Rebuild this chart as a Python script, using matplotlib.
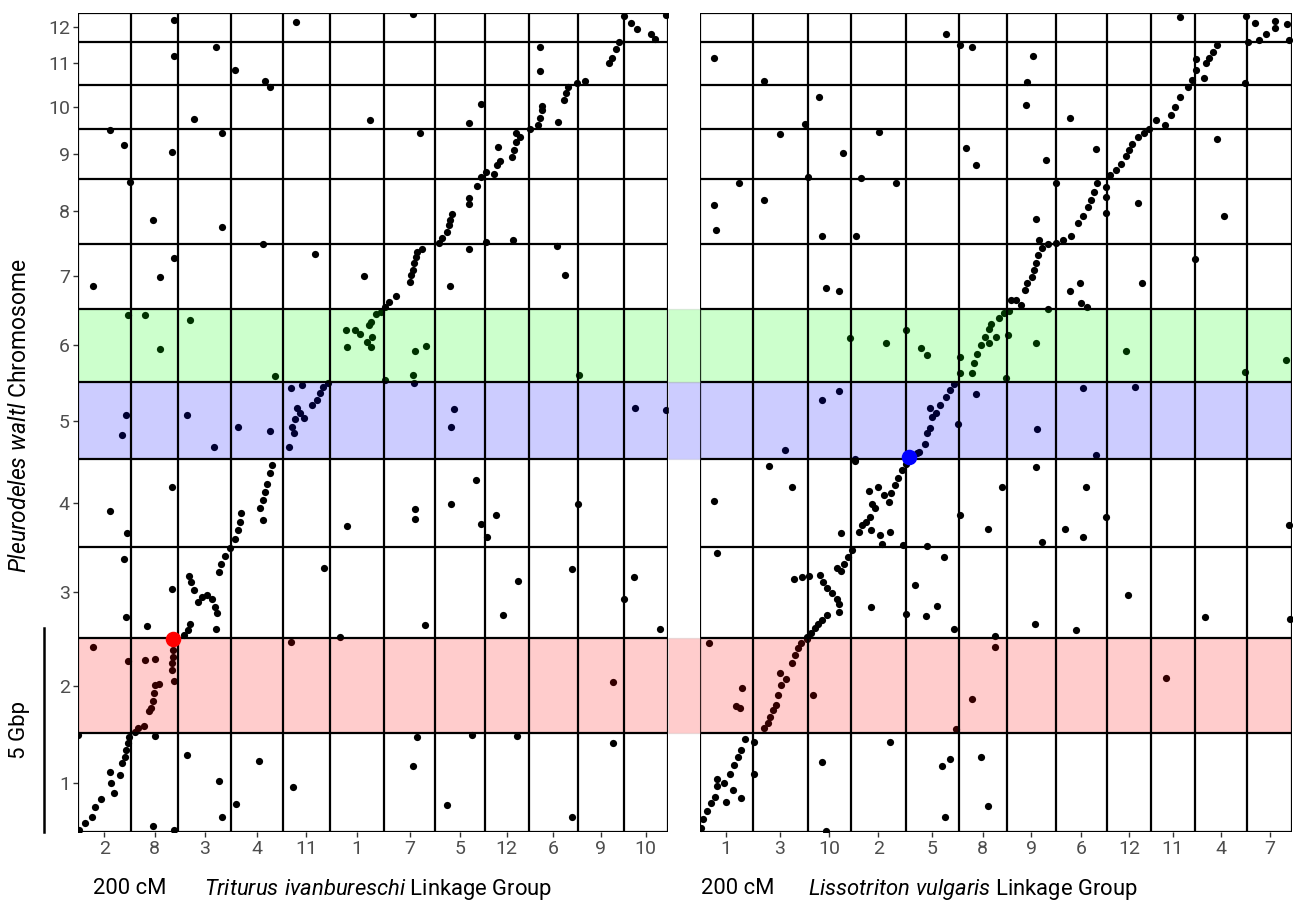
#!/usr/bin/env python3

import matplotlib
matplotlib.use("Agg")
import matplotlib.pyplot as plt
import matplotlib.transforms as mtransforms
from matplotlib.patches import Rectangle
from matplotlib.lines import Line2D
from matplotlib import font_manager
import numpy as np

installed = {f.name for f in font_manager.fontManager.ttflist}
font = "Liberation Sans Narrow" if "Liberation Sans Narrow" in installed else "Roboto"
plt.rcParams["font.family"] = [font, "DejaVu Sans"]
plt.rcParams["mathtext.fontset"] = "custom"
plt.rcParams["mathtext.rm"] = font
plt.rcParams["mathtext.it"] = font + ":italic"

# Pleurodeles waltl chromosomes (Gbp)
chrom_names = ["1", "2", "3", "4", "5", "6", "7", "8", "9", "10", "11", "12"]
chrom_gbp = [2.42, 2.33, 2.24, 2.14, 1.91, 1.77, 1.61, 1.58, 1.22, 1.09, 1.05, 0.72]

# linkage groups (cM), in plotted order
triturus_lg = ["2", "8", "3", "4", "11", "1", "7", "5", "12", "6", "9", "10"]
triturus_len = [107, 94, 106, 104, 93, 109, 102, 100, 87, 99, 91, 88]
lissotriton_lg = ["1", "3", "10", "2", "5", "8", "9", "6", "12", "11", "4", "7"]
lissotriton_len = [105, 110, 86, 111, 105, 97, 97, 103, 88, 87, 105, 90]

# highlighted chromosomes: (chromosome, colour)
bands = [("6", "#00ff00"), ("5", "#0000ff"), ("2", "#ff0000")]

# marker positions, cumulative cM / cumulative Gbp
triturus_pts = [
    (30, 13.39), (64, 17.2), (93, 16.83), (104, 15.94), (150, 15.01), (164, 13.6), (192, 19.9), (192, 19.02),
    (189, 16.66), (192, 14.06), (232, 17.47), (277, 19.24), (288, 17.14), (288, 14.82), (315, 18.67), (374, 18.4),
    (385, 18.26), (370, 14.4), (437, 19.84), (474, 14.17), (573, 13.62), (585, 17.45), (671, 20.04), (684, 17.14),
    (744, 13.39), (782, 17.37), (806, 17.84), (782, 15.53), (782, 15.39), (782, 14.3), (816, 14.47), (870, 14.5),
    (925, 19.25), (925, 18.64), (960, 17.4), (958, 14.36), (974, 13.65), (1115, 10.39), (1176, 10.34), (1002, 11.19),
    (752, 10.37), (746, 9.93),
    (101, 12.66), (134, 12.66), (164, 11.83), (224, 12.55), (395, 11.17), (539, 11.88), (537, 12.3), (554, 12.3),
    (565, 12.2), (578, 12.02), (586, 11.89), (588, 12.14), (582, 12.42), (586, 12.5), (596, 12.69), (606, 12.75),
    (614, 11.09), (675, 11.8), (697, 11.92), (670, 11.19), (673, 11.01),
    (614, 12.87), (623, 12.99), (636, 13.14), (664, 13.49), (667, 13.65), (670, 13.77), (673, 13.94), (676, 14.1),
    (679, 14.22), (688, 14.3), (722, 14.44), (729, 14.57), (738, 14.71), (742, 14.88), (744, 15.0), (749, 15.14),
    (799, 15.84), (807, 16.06), (816, 16.18), (833, 16.12), (838, 16.35), (844, 16.45), (840, 16.8), (868, 16.55),
    (873, 16.71), (877, 16.92), (877, 17.12), (885, 17.04), (904, 17.24), (920, 17.33), (924, 17.49), (929, 17.7),
    (929, 17.79), (972, 17.94), (976, 18.1), (981, 18.25), (998, 18.35), (1015, 18.41), (1063, 18.84), (1069, 18.98),
    (1076, 19.2), (1083, 19.37), (1093, 20.0), (1106, 19.83), (1118, 19.67), (1146, 19.57), (1154, 19.43), (1176, 20.02),
    (422, 9.44), (428, 9.93), (435, 10.11), (439, 10.38), (445, 10.26), (452, 10.14), (468, 10.46), (478, 10.59),
    (484, 10.75), (491, 10.9), (500, 11.01), (426, 10.87), (448, 10.95), (97, 10.23), (88, 9.73), (218, 10.21),
    (272, 9.44), (320, 9.92), (385, 9.82), (432, 9.77),
    (389, 8.99), (384, 8.79), (379, 8.54), (374, 8.34), (370, 8.13), (365, 7.95), (370, 7.64), (326, 7.81),
    (324, 7.6), (320, 7.4), (315, 7.17), (305, 6.95), (294, 6.76), (287, 6.58), (283, 6.38),
    (279, 5.36), (274, 5.52), (268, 5.72), (259, 5.8), (249, 5.75), (240, 5.64), (233, 5.93), (226, 6.13),
    (223, 6.27), (224, 5.11), (220, 4.95), (213, 4.83), (277, 4.97),
    (190, 4.46), (190, 4.29), (189, 4.13), (188, 3.97), (192, 3.7), (163, 3.62), (155, 3.6), (153, 3.4),
    (150, 3.22), (147, 3.03), (143, 2.97), (133, 2.6), (121, 2.54), (114, 2.46),
    (103, 2.33), (101, 2.17), (96, 2.01), (94, 1.84), (88, 1.68), (84, 1.39), (72, 0.95), (66, 1.19),
    (64, 1.48), (46, 0.82), (34, 0.62), (29, 0.37), (15, 0.21), (3, 0.05),
    (189, 8.46), (65, 7.86), (99, 7.34), (93, 6.7), (189, 5.95), (96, 5.26), (139, 5.05), (31, 4.54),
    (100, 4.2), (135, 4.21), (155, 4.24), (0, 2.37), (155, 2.36), (218, 1.88), (363, 1.74), (283, 1.25),
    (317, 0.68), (289, 0.36), (431, 1.11), (151, 0.15), (192, 0.05), (426, 4.66), (492, 6.47), (539, 7.51),
    (524, 4.78), (675, 7.91), (675, 7.66), (695, 5.07), (746, 8.04), (738, 0.67), (670, 1.61), (679, 2.32),
    (796, 8.62), (807, 7.55), (819, 7.24), (836, 7.78), (851, 5.32), (880, 6.14), (788, 2.37), (878, 2.35),
    (988, 6.45), (988, 0.36), (1001, 8.05), (1071, 3.67), (1070, 2.17), (1092, 5.72), (1113, 6.26), (1164, 4.97),
]
triturus_focus = (191, 4.72)

lissotriton_pts = [
    (27, 18.96), (128, 18.4), (238, 18.01), (209, 17.35), (159, 17.11), (357, 17.15), (285, 16.65), (77, 15.91),
    (216, 16.06), (321, 16.04), (392, 15.9), (28, 15.37), (32, 14.75), (128, 15.5), (243, 14.61), (311, 14.6),
    (252, 13.34), (277, 13.27), (491, 19.56), (520, 19.3), (543, 19.24), (532, 16.76), (551, 16.34), (666, 19.02),
    (654, 18.37), (651, 17.82), (739, 17.51), (691, 16.48), (711, 15.91), (672, 15.02), (677, 14.52), (740, 13.26),
    (760, 13.46), (762, 12.96), (773, 12.87), (791, 16.74), (875, 15.42), (884, 13.46), (960, 19.97), (990, 14.05),
    (1033, 16.98), (1047, 15.1), (1090, 18.36), (1092, 20.0), (1110, 19.83), (1131, 19.55), (1150, 19.88), (1174, 19.8),
    (1150, 19.7), (1095, 19.37), (1117, 19.41), (1178, 19.41),
    (621, 13.04), (631, 13.04), (642, 12.91), (650, 13.28), (654, 13.45), (664, 13.61), (668, 13.77), (672, 13.94),
    (676, 14.14), (683, 14.32), (695, 14.41), (712, 14.44), (725, 14.52), (742, 14.61), (756, 14.92), (765, 15.1),
    (775, 15.31), (781, 15.5), (787, 15.69), (793, 15.9), (811, 15.57), (811, 15.16), (811, 15.82), (820, 16.1),
    (832, 16.22), (842, 16.37), (851, 16.57), (858, 16.71), (863, 16.86), (875, 17.04), (887, 17.14), (898, 17.24),
    (912, 17.45), (930, 17.33), (941, 17.57), (949, 17.78), (959, 18.02), (975, 18.25), (984, 18.43), (991, 18.67),
    (1008, 18.47), (991, 18.94), (1012, 18.84), (1017, 18.98), (1025, 19.12), (1033, 19.3),
    (519, 11.26), (543, 11.26), (548, 11.49), (554, 11.71), (561, 11.93), (570, 12.14), (578, 12.34), (582, 12.46),
    (592, 12.14), (597, 12.59), (607, 12.71), (617, 12.78), (578, 11.98), (300, 12.1), (372, 11.99), (412, 12.3),
    (441, 11.85), (453, 11.69), (519, 11.63), (615, 12.18), (611, 11.12), (672, 11.99), (695, 12.81), (851, 11.79),
    (1090, 11.28), (1171, 11.57),
    (243, 10.59), (277, 10.81), (170, 9.36), (552, 10.73), (515, 10.0), (674, 9.88), (765, 10.87), (869, 10.9),
    (791, 9.24), (310, 9.13), (437, 9.32), (449, 9.52), (454, 9.77), (460, 9.89), (464, 10.18), (460, 10.38),
    (472, 10.26), (480, 10.46), (492, 10.67), (500, 10.83), (507, 10.99),
    (433, 9.29), (412, 9.03), (404, 8.87), (396, 8.67), (389, 8.5), (381, 8.3), (378, 8.09), (368, 8.26),
    (356, 8.46), (338, 8.36), (343, 8.05), (349, 7.93), (339, 7.73), (331, 7.6), (324, 7.52), (318, 7.36),
    (342, 7.4), (360, 7.28), (363, 7.07), (380, 7.36), (406, 7.03), (282, 7.33),
    (303, 6.91), (295, 6.75), (287, 6.58), (281, 6.4), (273, 6.46), (240, 6.3), (245, 6.13), (253, 5.97),
    (263, 5.85), (273, 5.72), (277, 5.6), (277, 5.4), (253, 5.32), (244, 5.19), (235, 5.11), (230, 4.99),
    (222, 4.88), (214, 4.78),
    (188, 6.19), (204, 6.24), (217, 6.27), (430, 6.06), (488, 6.75), (342, 5.52), (411, 5.34), (452, 5.3),
    (473, 5.54), (453, 7.01), (507, 4.97), (590, 4.8), (670, 5.1), (752, 4.94), (855, 5.81), (1009, 5.28),
    (1180, 5.23), (1178, 7.52), (34, 6.83),
    (28, 8.12), (138, 8.97), (184, 8.46), (519, 7.77), (576, 7.42), (603, 8.46), (672, 8.95), (683, 7.11),
    (730, 7.42), (772, 8.46), (766, 7.23), (812, 7.73), (310, 9.1),
    (214, 4.73), (202, 4.64), (195, 4.5), (189, 4.34), (183, 4.13), (171, 3.76), (159, 3.9), (162, 3.6),
    (156, 3.36), (152, 3.11), (146, 2.99), (140, 2.82), (136, 2.68), (128, 2.54),
    (17, 4.62), (83, 3.53), (71, 3.09), (80, 3.05), (226, 3.36), (511, 2.52), (543, 3.25), (590, 4.54), (932, 3.77),
    (107, 2.2), (89, 2.27), (81, 2.02), (76, 1.84), (68, 1.64), (60, 1.43), (34, 1.29), (34, 1.12),
    (29, 0.86), (21, 0.7), (13, 0.52), (5, 0.33), (1, 0.09),
    (48, 1.19), (65, 1.03), (51, 0.74), (81, 0.84), (107, 1.42), (244, 1.71), (251, 0.02), (379, 2.21),
    (483, 1.61), (500, 1.78), (561, 1.83), (576, 0.64), (489, 0.36),
]
lissotriton_focus = (417, 9.2)

chrom_edges = np.concatenate([[0], np.cumsum(chrom_gbp)])
chrom_mids = (chrom_edges[:-1] + chrom_edges[1:]) / 2

W, H = 1293, 911
fig = plt.figure(figsize=(W / 100, H / 100), dpi=100)
ax1 = fig.add_axes([77.5 / W, (H - 832) / H, 590 / W, 819.3 / H])
ax2 = fig.add_axes([700 / W, (H - 832) / H, 592 / W, 819.3 / H])

panels = [
    (ax1, triturus_lg, triturus_len, triturus_pts, triturus_focus, "red",
     r"$\mathit{Triturus\ ivanbureschi}$ Linkage Group", 204),
    (ax2, lissotriton_lg, lissotriton_len, lissotriton_pts, lissotriton_focus, "blue",
     r"$\mathit{Lissotriton\ vulgaris}$ Linkage Group", 808),
]

for ax, lg, lens, pts, focus, fcol, title, title_x in panels:
    edges = np.concatenate([[0], np.cumsum(lens)])
    mids = (edges[:-1] + edges[1:]) / 2
    xs = [p[0] for p in pts]
    ys = [p[1] for p in pts]
    ax.scatter(xs, ys, s=27, color="black", linewidths=0, zorder=2)

    for name, col in bands:
        i = chrom_names.index(name)
        ax.axhspan(chrom_edges[i], chrom_edges[i + 1], color=col, alpha=0.2, lw=0, zorder=3)

    for e in edges:
        ax.axvline(e, color="black", lw=1.6, zorder=4)
    for e in chrom_edges:
        ax.axhline(e, color="black", lw=1.6, zorder=4)

    ax.scatter([focus[0]], [focus[1]], s=125, color=fcol, linewidths=0, zorder=5, clip_on=False)

    ax.set_xlim(0, edges[-1])
    ax.set_ylim(0, chrom_edges[-1])
    for sp in ax.spines.values():
        sp.set_visible(False)
    ax.set_xticks(mids)
    ax.set_xticklabels(lg)
    ax.tick_params(axis="x", length=3.5, width=1, color="#333333", labelcolor="#4d4d4d",
                   labelsize=14, pad=2)
    ax.set_facecolor("none")

    fig.text(title_x / W, (H - 889) / H, title, fontsize=15.8, ha="left", va="center")

fig.text(130 / W, (H - 889) / H, "200 cM", fontsize=15.8, ha="center", va="center")
fig.text(738 / W, (H - 889) / H, "200 cM", fontsize=15.8, ha="center", va="center")

ax1.set_yticks(chrom_mids)
ax1.set_yticklabels(chrom_names)
ax1.tick_params(axis="y", length=3.5, width=1, color="#333333", labelcolor="#4d4d4d",
                labelsize=14, pad=2)
ax2.set_yticks([])

# band continuation in the gap between panels
gap = mtransforms.blended_transform_factory(fig.transFigure, ax1.transData)
for name, col in bands:
    i = chrom_names.index(name)
    fig.add_artist(Rectangle((667.5 / W, chrom_edges[i]), 32.5 / W, chrom_gbp[i], transform=gap,
                             facecolor=col, alpha=0.2, edgecolor="#999999", lw=1, zorder=0.5))

# 5 Gbp scale bar
fig.add_artist(Line2D([44 / W, 44 / W], [0, 5], transform=gap, color="black", lw=1.8))
fig.text(20 / W, (H - 730) / H, "5 Gbp", rotation=90, fontsize=16, ha="center", va="center")
fig.text(20 / W, (H - 416) / H, r"$\mathit{Pleurodeles\ waltl}$ Chromosome", rotation=90,
         fontsize=16.5, ha="center", va="center")

fig.savefig("out.png", dpi=100)
